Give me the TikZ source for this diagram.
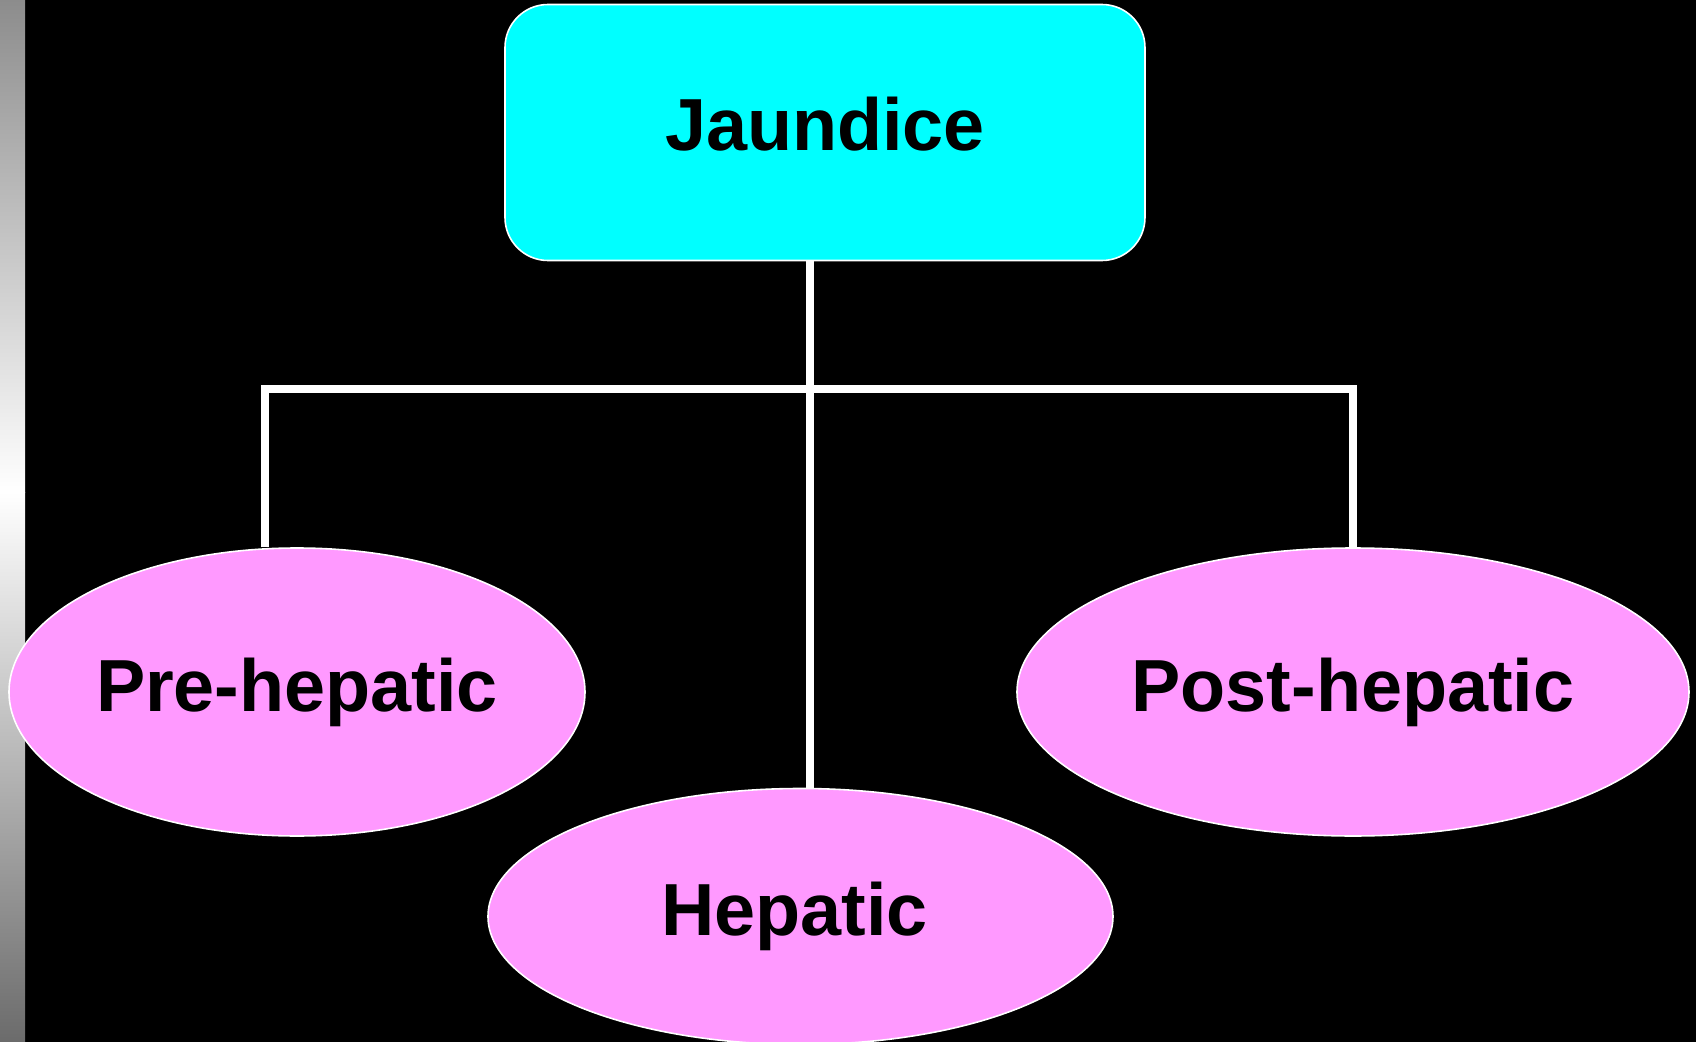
\documentclass[tikz,border=0pt]{standalone}
\usepackage{fontspec}
\setmainfont{Liberation Sans}
\usetikzlibrary{shapes.geometric}
\definecolor{rootcyan}{HTML}{00FFFF}
\definecolor{branchpink}{HTML}{FF99FF}

\begin{document}
\begin{tikzpicture}
    \tikzstyle{root box}  = [rectangle, rounded corners=0.43cm, fill=rootcyan, draw=white, line width=0.45pt,
                             minimum width=6.40cm, minimum height=2.56cm, inner sep=0pt, text depth=0.17cm,
                             font=\bfseries\fontsize{21}{25}\selectfont]
    \tikzstyle{branch}    = [ellipse, fill=branchpink, draw=white, line width=0.45pt, inner sep=0pt,
                             font=\bfseries\fontsize{21}{25}\selectfont]
    \tikzstyle{edge}      = [-, white, line width=2.1pt]

    \useasboundingbox (0,0) rectangle (16.96,-10.42);
    \fill[black] (0,0) rectangle (16.96,-10.42);
    % grey strip on the left
    \shade[top color=black!45, bottom color=white] (0,0) rectangle (0.25,-4.92);
    \shade[top color=white, bottom color=black!58] (0,-4.92) rectangle (0.25,-10.42);

    \node[root box] (jaundice) at (8.25,-1.325) {Jaundice};
    \node[branch, minimum width=5.76cm, minimum height=2.88cm] (pre)     at (2.97,-6.92)   {Pre-hepatic};
    \node[branch, minimum width=6.72cm, minimum height=2.88cm] (post)    at (13.53,-6.92)  {Post-hepatic};
    \node[branch, minimum width=6.25cm, minimum height=2.56cm] (hepatic) at (8.005,-9.165) {\hspace*{-0.12cm}Hepatic};

    \coordinate (fork)      at (8.10,-3.89);
    \coordinate (left end)  at (2.65,-3.89);
    \coordinate (right end) at (13.53,-3.89);

    \draw[edge] (jaundice.south -| fork) -- (hepatic.north -| fork);
    \draw[edge] (left end |- pre.north) -- (left end) -- (right end) -- (post.north);
\end{tikzpicture}
\end{document}
